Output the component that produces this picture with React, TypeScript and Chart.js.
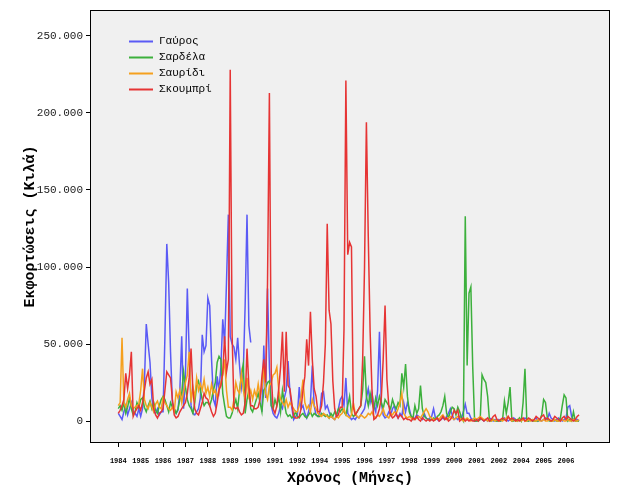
import { useEffect, useRef } from "react";
import { Chart, registerables } from "chart.js";

Chart.register(...registerables);

// Tick labels: one per 12 monthly observations (as printed in the original)
const yearLabels = [
  "1984", "1985", "1986", "1987", "1988", "1989", "1990", "1991", "1992",
  "1994", "1995", "1996", "1997", "1998", "1999", "2000", "2001", "2002",
  "2004", "2005", "2006",
];

const seriesNames = ["Γαύρος", "Σαρδέλα", "Σαυρίδι", "Σκουμπρί"];
const seriesColors = ["#5a5af5", "#3cb03c", "#f5a01e", "#e63434"];

// Monthly landings, in thousands of kg (one row per 12 months)
const gavros: (number | null)[] = [
  5, 3, 1, 6, 10, 4, 8, 12, 6, 5, 3, 8,
  3, 8, 25, 63, 50, 38, 15, 6, 5, 8, 4, 6,
  6, 55, 115, 90, 45, 12, 8, 5, 7, 20, 55, 8,
  30, 86, 45, 10, 5, 4, 6, 8, 15, 56, 45, 49,
  80, 75, 40, 14, 10, 29, 20, 35, 66, 50, 90, 134,
  55, 50, 48, 40, 54, 36, 22, 32, 75, 134, 62, 51,
  null, null, null, null, null, 6, 49, 15, 86, 35, 10, 5,
  3, 2, 5, 10, 8, 15, 20, 39, 19, 9, 1, 3,
  4, 22, 8, 10, 5, 2, 6, 12, 36, 10, 4, 3,
  5, 18, 19, 8, 10, 6, 3, 2, 1, 4, 8, 14,
  16, 10, 28, 5, 3, 1, 2, 1, 3, 2, 4, 6,
  8, 15, 21, 12, 18, 10, 6, 20, 58, 12, 4, 2,
  3, 6, 4, 8, 10, 4, 2, 5, 3, 12, 6, 12,
  8, 3, 1, 2, 4, 3, 2, 1, 5, 2, 1, 2,
  3, 8, 2, 1, 0, 1, 2, 1, 3, 5, 8, 4,
  1, 2, 1, 3, 2, 6, 11, 5, 5, 2, 1, 0,
  0, 1, 2, 1, 0, 1, 0, 2, 1, 0, 1, 0,
  1, 0, 1, 2, 1, 0, 1, 0, 2, 1, 0, 1,
  0, 1, 2, 1, 0, 1, 0, 1, 2, 0, 1, 0,
  1, 2, 1, 5, 2, 1, 0, 1, 2, 1, 0, 1,
  2, 9, 10, 3, 1, 0, 1, 0,
];

const sardela: number[] = [
  8, 10, 7, 12, 5, 9, 15, 8, 4, 6, 12, 9,
  14, 15, 9, 6, 10, 13, 8, 12, 7, 5, 10, 14,
  16, 14, 10, 6, 12, 9, 8, 5, 8, 14, 18, 32,
  22, 14, 10, 8, 5, 12, 23, 26, 20, 14, 10, 12,
  12, 10, 14, 20, 25, 38, 42, 40, 18, 10, 3, 2,
  2, 5, 10, 14, 8, 20, 30, 37, 5, 14, 20, 8,
  6, 10, 14, 18, 12, 6, 20, 22, 25, 26, 10, 8,
  14, 10, 16, 6, 20, 12, 5, 3, 4, 2, 3, 6,
  3, 2, 4, 5, 3, 2, 4, 6, 3, 5, 4, 3,
  3, 5, 4, 3, 4, 2, 5, 3, 6, 4, 8, 6,
  8, 6, 4, 10, 16, 5, 3, 4, 6, 8, 10, 20,
  42, 16, 10, 18, 12, 8, 15, 10, 16, 12, 8, 14,
  12, 10, 8, 14, 10, 8, 12, 10, 31, 22, 37, 16,
  6, 3, 2, 10, 5, 8, 23, 8, 3, 2, 1, 1,
  1, 2, 1, 3, 4, 6, 10, 16, 5, 2, 6, 9,
  8, 4, 9, 6, 2, 0, 133, 36, 83, 87, 35, 0,
  0, 0, 1, 30, 27, 25, 16, 0, 0, 1, 0, 0,
  0, 0, 1, 13, 5, 12, 22, 0, 0, 1, 0, 2,
  0, 12, 34, 0, 0, 1, 0, 0, 0, 0, 1, 4,
  14, 12, 2, 0, 0, 0, 1, 0, 0, 2, 10, 17,
  15, 0, 1, 0, 6, 0, 0, 0,
];

const sauridi: number[] = [
  10, 12, 54, 12, 9, 14, 18, 10, 8, 9, 10, 11,
  20, 34, 14, 10, 8, 12, 9, 6, 11, 13, 9, 8,
  15, 12, 10, 8, 7, 9, 6, 19, 15, 20, 12, 19,
  25, 30, 45, 12, 22, 15, 28, 20, 24, 20, 27, 18,
  22, 16, 24, 18, 20, 15, 21, 25, 30, 40, 20, 9,
  9, 7, 14, 25, 20, 18, 31, 20, 14, 28, 16, 20,
  14, 20, 16, 24, 16, 22, 35, 18, 14, 23, 25, 30,
  31, 35, 20, 14, 12, 10, 14, 9, 12, 10, 8, 6,
  6, 10, 16, 27, 12, 8, 10, 6, 14, 10, 8, 5,
  4, 3, 5, 4, 3, 2, 3, 2, 1, 3, 2, 4,
  5, 8, 4, 3, 2, 4, 12, 5, 3, 2, 4, 3,
  2, 3, 5, 4, 6, 3, 2, 4, 3, 5, 8, 4,
  3, 2, 5, 4, 6, 5, 8, 12, 18, 5, 3, 2,
  3, 2, 1, 1, 2, 3, 2, 4, 6, 8, 6, 3,
  2, 1, 1, 2, 1, 3, 4, 2, 1, 2, 3, 2,
  1, 2, 3, 2, 1, 0, 1, 2, 1, 0, 1, 2,
  1, 2, 3, 2, 1, 1, 0, 1, 0, 1, 0, 1,
  0, 1, 0, 1, 2, 3, 1, 0, 1, 0, 0, 1,
  0, 1, 0, 0, 1, 0, 1, 0, 0, 1, 0, 0,
  1, 0, 0, 1, 0, 0, 1, 0, 0, 0, 1, 0,
  0, 1, 0, 0, 1, 0, 0, 1,
];

const skoumpri: number[] = [
  5, 7, 10, 14, 31, 21, 30, 45, 3, 6, 8, 10,
  7, 12, 20, 28, 32, 24, 27, 8, 4, 2, 5, 6,
  8, 20, 32, 30, 28, 14, 4, 2, 3, 6, 8, 10,
  12, 18, 28, 47, 20, 8, 5, 4, 8, 12, 18, 15,
  14, 10, 6, 3, 5, 12, 20, 23, 31, 55, 32, 40,
  228, 57, 9, 8, 9, 6, 4, 5, 12, 47, 23, 10,
  10, 8, 8, 9, 14, 29, 40, 25, 90, 213, 30, 8,
  5, 10, 21, 35, 58, 19, 58, 23, 21, 12, 3, 2,
  2, 3, 8, 20, 29, 53, 36, 71, 40, 21, 16, 6,
  6, 10, 25, 50, 128, 72, 63, 26, 8, 3, 4, 9,
  9, 60, 221, 108, 116, 113, 9, 4, 6, 8, 10, 40,
  100, 194, 120, 58, 20, 1, 2, 4, 8, 15, 40, 75,
  27, 10, 4, 2, 3, 5, 2, 4, 3, 1, 2, 1,
  1, 0, 2, 1, 3, 1, 0, 2, 1, 0, 1, 0,
  1, 0, 1, 2, 0, 1, 3, 1, 2, 0, 1, 3,
  7, 5, 7, 0, 1, 2, 0, 1, 0, 1, 0, 0,
  1, 0, 2, 1, 0, 1, 2, 0, 1, 3, 4, 1,
  0, 1, 2, 1, 0, 3, 1, 2, 1, 0, 1, 0,
  1, 2, 0, 1, 2, 1, 0, 1, 3, 2, 1, 3,
  4, 1, 2, 1, 0, 1, 3, 2, 1, 0, 2, 3,
  1, 3, 2, 1, 0, 1, 3, 4,
];

const yTickValues = [0, 50, 100, 150, 200, 250];

const allSeries = [gavros, sardela, sauridi, skoumpri];

const frameBg = {
  id: "frameBg",
  beforeDraw(chart: any) {
    const { ctx, chartArea: a, width, height } = chart;
    ctx.save();
    ctx.fillStyle = "#ffffff";
    ctx.fillRect(0, 0, width, height);
    ctx.fillStyle = "#f0f0f0";
    ctx.fillRect(a.left, a.top, a.right - a.left, a.bottom - a.top);
    ctx.restore();
  },
  afterDraw(chart: any) {
    const { ctx, chartArea: a } = chart;
    ctx.save();
    ctx.strokeStyle = "#000000";
    ctx.lineWidth = 1;
    ctx.strokeRect(
      Math.round(a.left) - 0.5,
      Math.round(a.top) - 0.5,
      Math.round(a.right - a.left) + 1,
      Math.round(a.bottom - a.top) + 1
    );
    ctx.restore();
  },
};

const innerLegend = {
  id: "innerLegend",
  afterDraw(chart: any) {
    const { ctx, chartArea: a } = chart;
    ctx.save();
    ctx.font = "11px 'Liberation Mono', monospace";
    ctx.textBaseline = "middle";
    ctx.textAlign = "left";
    chart.data.datasets.forEach((ds: any, k: number) => {
      const y = Math.round(a.top + 30 + k * 16) + 0.5;
      const x0 = a.left + 38;
      ctx.strokeStyle = ds.borderColor;
      ctx.lineWidth = 2;
      ctx.beginPath();
      ctx.moveTo(x0, y);
      ctx.lineTo(x0 + 24, y);
      ctx.stroke();
      ctx.fillStyle = "#000000";
      ctx.fillText(ds.label, x0 + 30, y);
    });
    ctx.restore();
  },
};

export default function App() {
  const ref = useRef<HTMLCanvasElement>(null);

  useEffect(() => {
    if (!ref.current) return;
    const chart = new Chart(ref.current, {
      type: "line",
      data: {
        datasets: allSeries.map((s, k) => ({
          label: seriesNames[k],
          data: s.map((v, i) => ({ x: i, y: v })),
          borderColor: seriesColors[k],
          backgroundColor: seriesColors[k],
          borderWidth: 1.5,
          pointRadius: 0,
          tension: 0,
          spanGaps: false,
          order: allSeries.length - k,
        })),
      },
      options: {
        responsive: false,
        animation: false,
        events: [],
        layout: { padding: { left: 0, right: 15, top: 11, bottom: 0 } },
        plugins: {
          legend: { display: false },
          tooltip: { enabled: false },
        },
        scales: {
          x: {
            type: "linear",
            min: -14.63,
            max: 263.05,
            afterBuildTicks: (scale: any) => {
              scale.ticks = yearLabels.map((_, k) => ({ value: k * 12 }));
            },
            afterFit: (scale: any) => {
              scale.height = 58;
            },
            ticks: {
              autoSkip: false,
              maxRotation: 0,
              minRotation: 0,
              padding: 10,
              color: "#000000",
              font: { family: "'Liberation Mono', monospace", size: 7, weight: "bold" },
              callback: (v: any) => yearLabels[Math.round(Number(v) / 12)] ?? "",
            },
            grid: {
              drawOnChartArea: false,
              drawTicks: true,
              tickLength: 5,
              color: "#000000",
            },
            border: { display: false },
            title: {
              display: true,
              text: "Χρόνος (Μήνες)",
              color: "#000000",
              font: { family: "'Liberation Mono', monospace", size: 15, weight: "bold" },
              padding: { top: 13, bottom: 13 },
            },
          },
          y: {
            type: "linear",
            min: -13.6,
            max: 266.2,
            afterBuildTicks: (scale: any) => {
              scale.ticks = yTickValues.map((v) => ({ value: v }));
            },
            afterFit: (scale: any) => {
              scale.width = 91;
            },
            ticks: {
              padding: 3,
              color: "#222222",
              font: { family: "'Liberation Mono', monospace", size: 11 },
              callback: (v: any) => (Number(v) === 0 ? "0" : `${v}.000`),
            },
            grid: {
              drawOnChartArea: false,
              drawTicks: true,
              tickLength: 5,
              color: "#000000",
            },
            border: { display: false },
            title: {
              display: true,
              text: "Εκφορτώσεις (Κιλά)",
              color: "#000000",
              font: { family: "'Liberation Mono', monospace", size: 15, weight: "bold" },
              padding: { top: 21, bottom: 21 },
            },
          },
        },
      },
      plugins: [frameBg, innerLegend],
    });
    return () => chart.destroy();
  }, []);

  return (
    <div style={{ position: "fixed", left: 0, top: 0, width: 624, height: 500, background: "#ffffff" }}>
      <canvas ref={ref} width={624} height={500} style={{ display: "block" }} />
    </div>
  );
}
